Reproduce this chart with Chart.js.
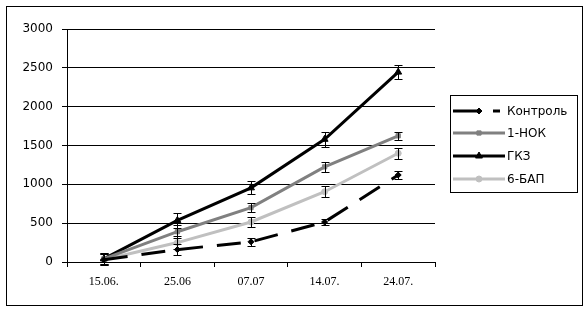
<!DOCTYPE html>
<html lang="ru">
<head>
    <meta charset="UTF-8">
    <title>Chart</title>
    <script src="https://cdn.jsdelivr.net/npm/chart.js"></script>
    <style>
        body { margin: 0; background: #fff; }
        #wrap { width: 588px; height: 312px; }
    </style>
</head>
<body>
    <div id="wrap"><canvas id="chart" width="588" height="312"></canvas></div>
    <script>
        // даты и значения
        const dates = ['15.06.', '25.06', '07.07', '14.07.', '24.07.'];
        const control = [30, 160, 260, 515, 1120];
        const nok = [40, 390, 700, 1225, 1625];
        const gkz = [40, 535, 955, 1580, 2445];
        const bap = [30, 250, 515, 905, 1400];
        const controlErr = [70, 70, 50, 45, 50];
        const nokErr = [70, 80, 60, 65, 55];
        const gkzErr = [70, 100, 85, 95, 95];
        const bapErr = [70, 80, 70, 70, 70];
        const yTicks = [0, 500, 1000, 1500, 2000, 2500, 3000];

        function series(label, data, err, color, style, dash) {
            return {
                label: label,
                data: data,
                err: err,
                borderColor: color,
                backgroundColor: color,
                pointBackgroundColor: color,
                pointBorderColor: color,
                pointStyle: style,
                pointRadius: style === 'triangle' ? 4 : 3,
                pointBorderWidth: 1,
                borderWidth: 3,
                borderDash: dash || [],
                tension: 0
            };
        }

        // усы погрешностей и легенда в рамке
        const extras = {
            id: 'extras',
            afterDatasetsDraw(chart) {
                const ctx = chart.ctx;
                const x = chart.scales.x, y = chart.scales.y;
                ctx.save();
                ctx.strokeStyle = '#000';
                ctx.lineWidth = 1;
                chart.data.datasets.forEach(ds => {
                    ds.data.forEach((v, i) => {
                        const px = Math.round(x.getPixelForValue(i)) + 0.5;
                        const top = Math.round(y.getPixelForValue(v + ds.err[i])) + 0.5;
                        const bot = Math.round(y.getPixelForValue(v - ds.err[i])) + 0.5;
                        ctx.beginPath();
                        ctx.moveTo(px, top); ctx.lineTo(px, bot);
                        ctx.moveTo(px - 4, top); ctx.lineTo(px + 4, top);
                        ctx.moveTo(px - 4, bot); ctx.lineTo(px + 4, bot);
                        ctx.stroke();
                    });
                });
                ctx.restore();
            },
            afterDraw(chart) {
                const ctx = chart.ctx;
                ctx.save();
                ctx.strokeStyle = '#000';
                ctx.lineWidth = 1;
                ctx.strokeRect(6.5, 6.5, 576, 299);
                ctx.strokeRect(450.5, 95.5, 127, 97);
                const rows = [111, 133, 156, 179];
                ctx.font = '12px "DejaVu Sans"';
                ctx.textBaseline = 'middle';
                chart.data.datasets.forEach((ds, k) => {
                    const ry = rows[k];
                    const dashed = ds.borderDash.length > 0;
                    ctx.strokeStyle = ds.borderColor;
                    ctx.fillStyle = ds.borderColor;
                    ctx.lineWidth = 3;
                    ctx.setLineDash(dashed ? [28, 12] : []);
                    ctx.beginPath();
                    ctx.moveTo(453, ry); ctx.lineTo(dashed ? 500 : 505, ry);
                    ctx.stroke();
                    ctx.setLineDash([]);
                    ctx.lineWidth = 1;
                    Chart.helpers.drawPoint(ctx, {
                        pointStyle: ds.pointStyle, radius: ds.pointRadius,
                        borderWidth: 1
                    }, 479, ry);
                    ctx.fillStyle = '#000';
                    ctx.fillText(ds.label, 507, ry + 1);
                });
                ctx.restore();
            }
        };

        new Chart(document.getElementById('chart'), {
            type: 'line',
            data: {
                labels: dates,
                datasets: [
                    series('Контроль', control, controlErr, '#000000', 'rectRot', [24, 14]),
                    series('1-НОК', nok, nokErr, '#808080', 'rect'),
                    series('ГКЗ', gkz, gkzErr, '#000000', 'triangle'),
                    series('6-БАП', bap, bapErr, '#c0c0c0', 'circle')
                ]
            },
            options: {
                responsive: false,
                animation: false,
                layout: { padding: { top: 29, right: 153, bottom: 0, left: 0 } },
                plugins: { legend: { display: false }, tooltip: { enabled: false } },
                scales: {
                    x: {
                        offset: true,
                        afterFit: s => { s.height = 50; },
                        grid: { offset: true, drawOnChartArea: false, color: '#000', tickLength: 5, tickColor: '#000' },
                        border: { color: '#000' },
                        ticks: { color: '#000', padding: 8, maxRotation: 0, font: { family: '"Liberation Serif"', size: 12 } }
                    },
                    y: {
                        min: 0,
                        max: 3000,
                        afterFit: s => { s.width = 67; },
                        afterBuildTicks: s => { s.ticks = yTicks.map(v => ({ value: v })); },
                        grid: { color: '#000', tickLength: 5, tickColor: '#000' },
                        border: { color: '#000' },
                        ticks: { color: '#000', padding: 9, font: { family: '"DejaVu Sans"', size: 12 },
                            callback: v => String(v) }
                    }
                }
            },
            plugins: [extras]
        });
    </script>
</body>
</html>
